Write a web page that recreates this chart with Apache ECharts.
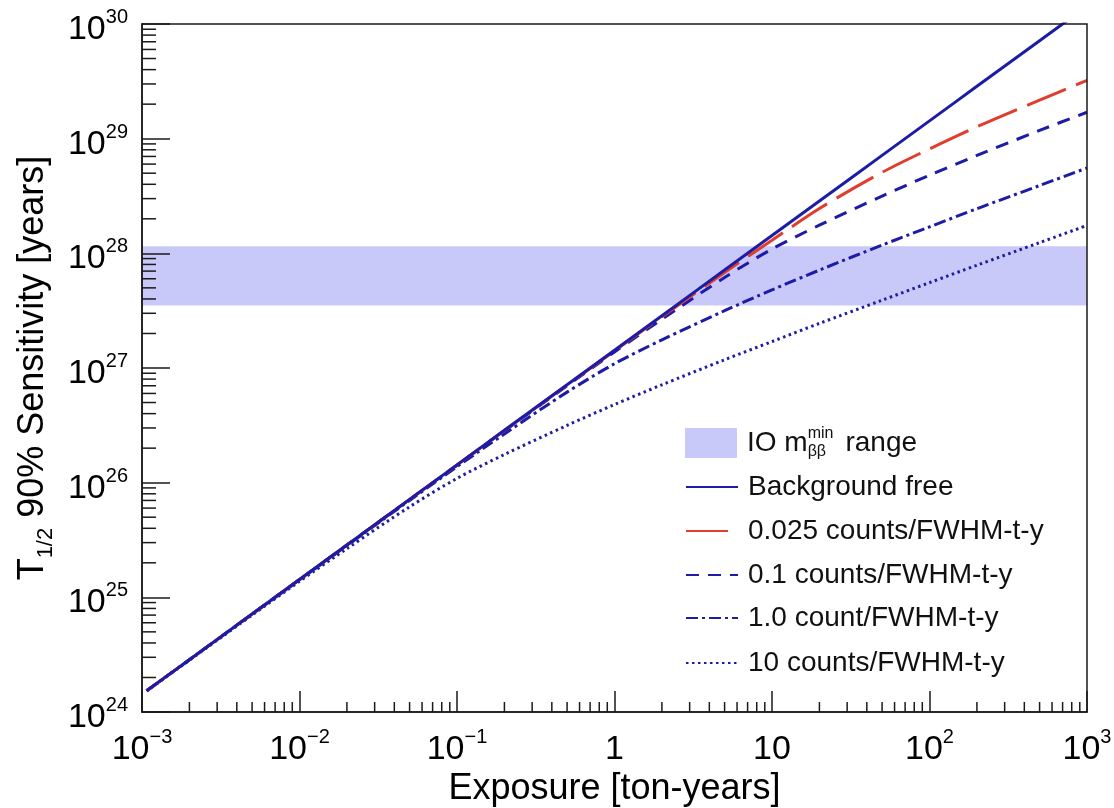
<!DOCTYPE html>
<html>
<head>
<meta charset="utf-8">
<script src="https://cdn.jsdelivr.net/npm/echarts@6/dist/echarts.min.js"></script>
<style>
  html, body { margin: 0; padding: 0; background: #fff; }
  #chart { width: 1114px; height: 808px; }
</style>
</head>
<body>
<div id="chart"></div>
<script>
// exposure [ton-years] and 90% CL half-life sensitivity [years]
const exposure = [0.00107, 0.002, 0.005, 0.01, 0.02, 0.05, 0.1, 0.2, 0.5, 1, 2, 5, 10, 20, 50, 100, 200, 500, 1000];
const bkgFree  = [1.53e24, 2.86e24, 7.15e24, 1.43e25, 2.86e25, 7.15e25, 1.43e26, 2.86e26, 7.15e26, 1.43e27, 2.86e27, 7.15e27, 1.43e28, 2.86e28, 7.15e28, 1.43e29, 2.86e29, 7.15e29, 1.43e30];
const bkg0025  = [1.53e24, 2.86e24, 7.15e24, 1.43e25, 2.86e25, 7.15e25, 1.43e26, 2.85e26, 7.11e26, 1.41e27, 2.80e27, 6.81e27, 1.30e28, 2.46e28, 5.08e28, 8.14e28, 1.27e29, 2.17e29, 3.22e29];
const bkg01    = [1.53e24, 2.86e24, 7.15e24, 1.43e25, 2.86e25, 7.13e25, 1.42e26, 2.83e26, 7.00e26, 1.38e27, 2.66e27, 6.16e27, 1.09e28, 1.76e28, 3.16e28, 4.80e28, 7.14e28, 1.18e29, 1.70e29];
const bkg1     = [1.53e24, 2.86e24, 7.13e24, 1.42e25, 2.83e25, 7.00e25, 1.38e26, 2.66e26, 6.16e26, 1.09e27, 1.76e27, 3.16e27, 4.80e27, 7.14e27, 1.18e28, 1.70e28, 2.45e28, 3.90e28, 5.55e28];
const bkg10    = [1.52e24, 2.83e24, 7.00e24, 1.38e25, 2.66e25, 6.16e25, 1.09e26, 1.76e26, 3.16e26, 4.80e26, 7.14e26, 1.18e27, 1.70e27, 2.45e27, 3.90e27, 5.55e27, 7.87e27, 1.24e28, 1.75e28];
// IO m_bb^min band
const ioBand = [3.5e27, 1.15e28];
const xRange = [1e-3, 1e3];
const yRange = [1e24, 1e30];
const names = ['IO band', 'Background free', '0.025 counts/FWHM-t-y', '0.1 counts/FWHM-t-y', '1.0 count/FWHM-t-y', '10 counts/FWHM-t-y'];

const font = 'Liberation Sans, Arial, Helvetica, sans-serif';
const blue = '#1c1ca6';
const red = '#e23c2c';
const bandColor = '#c9c9f9';
const axisColor = '#1a1a1a';

// minor log ticks 2..9 per decade
const minorX = [];
const minorY = [];
for (let d = -3; d < 3; d++) for (let m = 2; m <= 9; m++) minorX.push(m * Math.pow(10, d));
for (let d = 24; d < 30; d++) for (let m = 2; m <= 9; m++) minorY.push(m * Math.pow(10, d));

const powLabel = (v) => {
  const e = Math.round(Math.log10(v));
  if (e === 0) return '{b|1}';
  if (e === 1) return '{b|10}';
  return '{b|10}{s|' + (e < 0 ? '\u2212' + (-e) : e) + '}';
};
const labelRich = {
  b: { fontSize: 34, padding: [11, 0, 0, 0], color: '#000', fontFamily: font },
  s: { fontSize: 20, padding: [6, 0, 0, 0], verticalAlign: 'top', color: '#000', fontFamily: font }
};

const chart = echarts.init(document.getElementById('chart'));

const lineDefs = [
  { name: names[5], data: bkg10, color: blue, dash: [2.5, 3.5] },
  { name: names[4], data: bkg1, color: blue, dash: [12, 4, 3, 4] },
  { name: names[3], data: bkg01, color: blue, dash: [13, 9] },
  { name: names[2], data: bkg0025, color: red, dash: [42, 11] },
  { name: names[1], data: bkgFree, color: blue, dash: 'solid' }
];

const legendRows = [443, 487, 531, 575, 618, 663];

const options = {
  animation: false,
  backgroundColor: '#fff',
  grid: {
    left: 142,
    right: 27,
    top: 24,
    bottom: 96,
    show: true,
    borderColor: axisColor,
    borderWidth: 1.5,
    z: 3,
    outerBoundsMode: 'none',
    containLabel: false
  },
  xAxis: {
    type: 'log',
    min: xRange[0],
    max: xRange[1],
    logBase: 10,
    splitNumber: 6,
    z: 3,
    name: 'Exposure [ton-years]',
    nameLocation: 'middle',
    nameGap: 55,
    nameTextStyle: { fontSize: 36, color: '#000', fontFamily: font },
    axisLine: { show: true, lineStyle: { color: axisColor, width: 1.5 } },
    axisTick: { show: true, inside: true, length: 21, lineStyle: { color: axisColor, width: 1.5 } },
    minorTick: { show: false },
    splitLine: { show: false },
    axisLabel: {
      margin: 9.5,
      showMinLabel: true,
      showMaxLabel: true,
      formatter: powLabel,
      rich: labelRich
    }
  },
  yAxis: {
    type: 'log',
    min: yRange[0],
    max: yRange[1],
    logBase: 10,
    splitNumber: 6,
    z: 3,
    name: '{t|T}{sub|1/2}{t| 90% Sensitivity [years]}',
    nameLocation: 'middle',
    nameRotate: 90,
    nameGap: 85,
    nameTextStyle: {
      color: '#000',
      fontFamily: font,
      rich: {
        t: { fontSize: 36, color: '#000', fontFamily: font },
        sub: { fontSize: 22, lineHeight: 48, verticalAlign: 'bottom', color: '#000', fontFamily: font }
      }
    },
    axisLine: { show: true, lineStyle: { color: axisColor, width: 1.5 } },
    axisTick: { show: true, inside: true, length: 28, lineStyle: { color: axisColor, width: 1.5 } },
    minorTick: { show: false },
    splitLine: { show: false },
    axisLabel: {
      margin: 14,
      showMinLabel: true,
      showMaxLabel: true,
      formatter: powLabel,
      rich: labelRich
    }
  },
  legend: names.map((n, i) => ({
    data: [i === 0 ? { name: n, icon: 'rect' } : { name: n }],
    orient: 'vertical',
    left: 685,
    top: i === 0 ? legendRows[i] - 17 : legendRows[i] - 15,
    itemWidth: 52,
    itemHeight: 30,
    padding: 0,
    selectedMode: false,
    // line entries: keep the line, hide the marker dot
    itemStyle: i === 0 ? {} : { opacity: 0 },
    formatter: (name) => name === names[0]
      ? '{t|IO m}{sup|min}{sub|\u03b2\u03b2}{t| range}'
      : name,
    textStyle: {
      fontSize: 28,
      lineHeight: 30,
      color: '#111',
      fontFamily: font,
      padding: [0, 0, 0, 5],
      rich: {
        t: { fontSize: 28, lineHeight: 34, color: '#111', fontFamily: font },
        sup: { fontSize: 16, width: 0, verticalAlign: 'top', color: '#111', fontFamily: font },
        sub: { fontSize: 16, width: 30, verticalAlign: 'bottom', color: '#111', fontFamily: font }
      }
    }
  })),
  series: [
    {
      name: names[0],
      type: 'custom',
      z: 1,
      silent: true,
      itemStyle: { color: bandColor },
      encode: { x: [0, 2], y: [1, 3] },
      data: [[xRange[0], ioBand[0], xRange[1], ioBand[1]]],
      renderItem: (params, api) => {
        const p1 = api.coord([api.value(0), api.value(3)]);
        const p2 = api.coord([api.value(2), api.value(1)]);
        return {
          type: 'rect',
          shape: { x: p1[0], y: p1[1], width: p2[0] - p1[0], height: p2[1] - p1[1] },
          style: { fill: bandColor }
        };
      }
    },
    ...lineDefs.map((d) => ({
      name: d.name,
      type: 'line',
      z: 2,
      smooth: 0.3,
      symbol: 'none',
      showSymbol: false,
      clip: true,
      color: d.color,
      lineStyle: { color: d.color, width: 3, type: d.dash },
      data: exposure.map((e, i) => [e, d.data[i]])
    })),
    {
      // minor ticks
      type: 'custom',
      z: 4,
      silent: true,
      encode: { x: 0, y: 1 },
      data: minorX.map((v) => [v, yRange[0], 0]).concat(minorY.map((v) => [xRange[0], v, 1])),
      renderItem: (params, api) => {
        const p = api.coord([api.value(0), api.value(1)]);
        const horizontal = api.value(2) === 1;
        return {
          type: 'line',
          shape: horizontal
            ? { x1: p[0], y1: p[1], x2: p[0] + 14, y2: p[1] }
            : { x1: p[0], y1: p[1], x2: p[0], y2: p[1] - 10 },
          style: { stroke: axisColor, lineWidth: 1.5 }
        };
      }
    }
  ]
};

chart.setOption(options);
</script>
</body>
</html>
